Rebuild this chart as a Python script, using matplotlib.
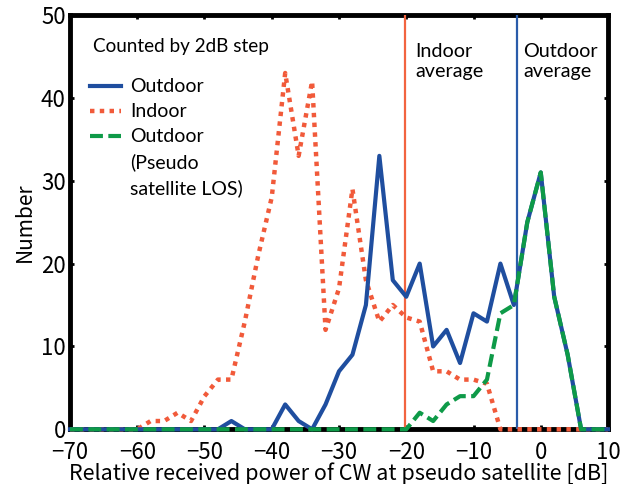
import numpy as np
import matplotlib.pyplot as plt
from matplotlib.lines import Line2D

# received power bins (2 dB step)
power_db = np.arange(-70, 12, 2)

outdoor = [0, 0, 0, 0, 0, 0, 0, 0, 0, 0, 0, 0,
           1, 0, 0, 0, 3, 1, 0, 3, 7, 9, 15, 33, 18, 16, 20, 10, 12, 8,
           14, 13, 20, 15, 25, 31, 16, 9, 0, 0, 0]
indoor = [0, 0, 0, 0, 0,
          0, 1, 1, 2, 1, 4, 6, 6, 13, 21, 28, 43, 33, 42, 12, 17, 29, 18,
          13, 15, 13.5, 13, 7, 7, 6, 6, 5.5, 0, 0, 0, 0, 0, 0, 0, 0, 0]
outdoor_los = [0] * 25 + [0, 2, 1, 3, 4, 4, 6, 14, 15, 25, 31, 16, 9, 0, 0, 0]

indoor_avg = -20.25
outdoor_avg = -3.5

blue = '#1f4e9f'
red = '#f15a3a'
green = '#0e9a48'

label_font = 'Noto Sans CJK JP'
note_font = 'Lato'

fig = plt.figure(figsize=(6.35, 4.84), dpi=100)
ax = fig.add_axes([0.1102, 0.113, 0.8473, 0.856])

ax.plot(power_db, indoor, color=red, lw=3.2, ls=(0, (1, 1.2)),
        zorder=3, clip_on=False)
ax.plot(power_db, outdoor, color=blue, lw=3, zorder=3.1, clip_on=False)
ax.plot(power_db, outdoor_los, color=green, lw=3, ls=(0, (3.1, 1.3)),
        zorder=3.2, clip_on=False)

ax.axvline(indoor_avg, color='#f26440', lw=1.6, zorder=2.8)
ax.axvline(outdoor_avg, color='#2a5caa', lw=1.6, zorder=2.8)

ax.set_xlim(-70, 10)
ax.set_ylim(0, 50)
ax.set_xticks(np.arange(-70, 11, 10))
ax.set_yticks(np.arange(0, 51, 10))
ax.tick_params(direction='in', length=3, width=2, top=True, right=True,
               labelsize=16)
ax.tick_params(axis='x', pad=8.5)
ax.tick_params(axis='y', pad=3)
for lab in ax.get_xticklabels() + ax.get_yticklabels():
    lab.set_family(label_font)

for side in ['top', 'right', 'bottom', 'left']:
    ax.spines[side].set_linewidth(3.5)

ax.set_xlabel('Relative received power of CW at pseudo satellite [dB]',
              family=label_font, fontsize=15.5, labelpad=-1)
ax.set_ylabel('Number', family=label_font, fontsize=15, labelpad=4)

ax.text(0.043, 0.923, 'Counted by 2dB step', transform=ax.transAxes,
        family=note_font, fontsize=13.6, va='center', ha='left')
ax.text(-18.7, 44.4, 'Indoor\naverage', family=note_font, fontsize=14.2,
        va='center', ha='left', linespacing=1.2)
ax.text(-2.6, 44.4, 'Outdoor\naverage', family=note_font, fontsize=14.2,
        va='center', ha='left', linespacing=1.2)

handles = [
    Line2D([], [], color=blue, lw=3),
    Line2D([], [], color=red, lw=3.2, ls=(0, (1, 1.2))),
    Line2D([], [], color=green, lw=3, ls=(0, (3.1, 1.3))),
    Line2D([], [], color='none'),
    Line2D([], [], color='none'),
]
labels = ['Outdoor', 'Indoor', 'Outdoor', '(Pseudo', 'satellite LOS)']
ax.legend(handles, labels, loc='upper left', bbox_to_anchor=(0.005, 0.889),
          frameon=False, prop={'family': note_font, 'size': 14},
          handlelength=1.6, handletextpad=0.46, labelspacing=0.41)

fig.savefig('out.png', dpi=100)
